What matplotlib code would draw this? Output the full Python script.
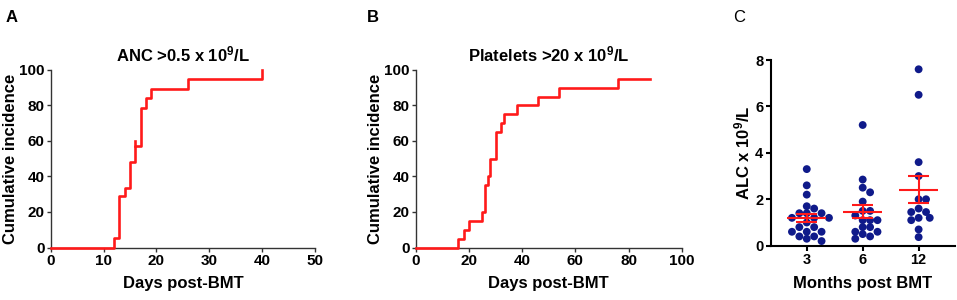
import numpy as np
import matplotlib
matplotlib.use("Agg")
import matplotlib.pyplot as plt

plt.rcParams['font.family'] = ['Liberation Sans', 'DejaVu Sans']
plt.rcParams['font.weight'] = 'bold'
plt.rcParams['axes.labelweight'] = 'bold'
plt.rcParams['axes.titleweight'] = 'bold'
plt.rcParams['mathtext.fontset'] = 'custom'
plt.rcParams['mathtext.rm'] = 'Liberation Sans:bold'
plt.rcParams['mathtext.default'] = 'rm'

# panel A - neutrophil engraftment
anc_days = [0, 12, 13, 14, 15, 16, 17, 18, 19, 26, 40]
anc_cum = [0, 5.3, 28.9, 33.6, 47.9, 57.4, 78.7, 84.0, 89.4, 94.7, 100]
anc_censor = [16]

# panel B - platelet engraftment
plt_days = [0, 16, 18, 20, 25, 26, 27, 28, 30, 32, 33, 38, 46, 54, 76, 88]
plt_cum = [0, 5, 10, 15, 20, 35, 40, 50, 65, 70, 75, 80, 85, 90, 95, 95]

# panel C - lymphocyte counts
months = ['3', '6', '12']
alc_3 = [3.3, 2.6, 2.2, 1.7, 1.6, 1.4, 1.4, 1.4, 1.2, 1.2, 1.2, 1.0, 0.8, 0.8,
         0.6, 0.6, 0.6, 0.4, 0.4, 0.3, 0.2]
alc_6 = [5.2, 2.85, 2.5, 2.3, 1.9, 1.5, 1.5, 1.3, 1.1, 1.1, 1.1, 0.8, 0.8,
         0.6, 0.6, 0.5, 0.4, 0.3]
alc_12 = [7.6, 6.5, 3.6, 3.0, 2.0, 2.0, 1.6, 1.45, 1.45, 1.2, 1.2, 1.1, 0.7, 0.37]

RED = '#ff1a1a'
NAVY = '#0f1a8a'
TICK_FS = 11
LAB_FS = 12


def style_km(ax):
    for s in ['top', 'right']:
        ax.spines[s].set_visible(False)
    for s in ['left', 'bottom']:
        ax.spines[s].set_linewidth(1.0)
        ax.spines[s].set_color('#333333')
    ax.tick_params(length=3, width=1.0, color='#333333', labelsize=TICK_FS, pad=1.5)
    ax.set_ylim(0, 100)
    ax.set_yticks(range(0, 101, 20))
    ax.set_ylabel('Cumulative incidence', fontsize=LAB_FS, labelpad=1)
    ax.set_xlabel('Days post-BMT', fontsize=LAB_FS, labelpad=6)


# simple beeswarm so the dots don't overlap (works in pixel units)
def swarm(vals, px_x, px_y, d):
    placed = []
    offs = []
    for v in vals:
        k = 0
        while True:
            for sgn in ([0] if k == 0 else [1, -1]):
                dx = sgn * k * d / 2
                ok = all((dx - px) ** 2 + (v * px_y - py) ** 2 >= (0.88 * d) ** 2
                         for px, py in placed)
                if ok:
                    break
            if ok:
                break
            k += 1
        placed.append((dx, v * px_y))
        offs.append(dx / px_x)
    return np.array(offs)


fig = plt.figure(figsize=(9.57, 3.0), dpi=100)

# A
ax1 = fig.add_axes([0.053, 0.175, 0.2762, 0.5917])
ax1.plot(anc_days, anc_cum, drawstyle='steps-post', color=RED, lw=1.9, clip_on=False, zorder=5)
for c in anc_censor:
    yv = anc_cum[anc_days.index(c)]
    ax1.plot([c, c], [yv, yv + 2.6], color=RED, lw=1.9, zorder=5)
ax1.set_xlim(0, 50)
ax1.set_xticks(range(0, 51, 10))
style_km(ax1)
ax1.set_title('ANC >0.5 x 10$^9$/L', fontsize=LAB_FS, pad=6)

# B
ax2 = fig.add_axes([0.4344, 0.175, 0.278, 0.5917])
ax2.plot(plt_days, plt_cum, drawstyle='steps-post', color=RED, lw=1.9, clip_on=False, zorder=5)
ax2.set_xlim(0, 100)
ax2.set_xticks(range(0, 101, 20))
style_km(ax2)
ax2.set_title('Platelets >20 x 10$^9$/L', fontsize=LAB_FS, pad=6)

# C
ax3 = fig.add_axes([0.8056, 0.181, 0.1923, 0.619])
ax3.set_xlim(-0.64, 2.65)
ax3.set_ylim(0, 8)
px_x = 0.1923 * 957 / 3.29
px_y = 0.619 * 300 / 8
for i, g in enumerate([alc_3, alc_6, alc_12]):
    g = np.array(g)
    xs = i + swarm(g, px_x, px_y, 7.4)
    ax3.scatter(xs, g, s=32, color=NAVY, edgecolors='none', zorder=3, clip_on=False)
    m = g.mean()
    sem = g.std(ddof=1) / np.sqrt(len(g))
    ax3.hlines(m, i - 0.345, i + 0.345, color=RED, lw=1.5, zorder=4)
    ax3.vlines(i, m - sem, m + sem, color=RED, lw=1.5, zorder=4)
    ax3.hlines([m - sem, m + sem], i - 0.185, i + 0.185, color=RED, lw=1.5, zorder=4)
ax3.set_xticks(range(3))
ax3.set_xticklabels(months)
ax3.set_yticks(range(0, 9, 2))
for s in ['top', 'right']:
    ax3.spines[s].set_visible(False)
for s in ['left', 'bottom']:
    ax3.spines[s].set_linewidth(1.5)
ax3.tick_params(length=3.5, width=1.5, labelsize=TICK_FS - 0.5, pad=2)
ax3.set_ylabel('ALC x 10$^9$/L', fontsize=LAB_FS, labelpad=2)
ax3.set_xlabel('Months post BMT', fontsize=LAB_FS, labelpad=6)

# panel letters
fig.text(0.006, 0.94, 'A', fontsize=12, fontweight='bold', va='center')
fig.text(0.383, 0.94, 'B', fontsize=12, fontweight='bold', va='center')
fig.text(0.766, 0.94, 'C', fontsize=12, fontweight='normal', va='center')

fig.savefig('out.png', dpi=100)
